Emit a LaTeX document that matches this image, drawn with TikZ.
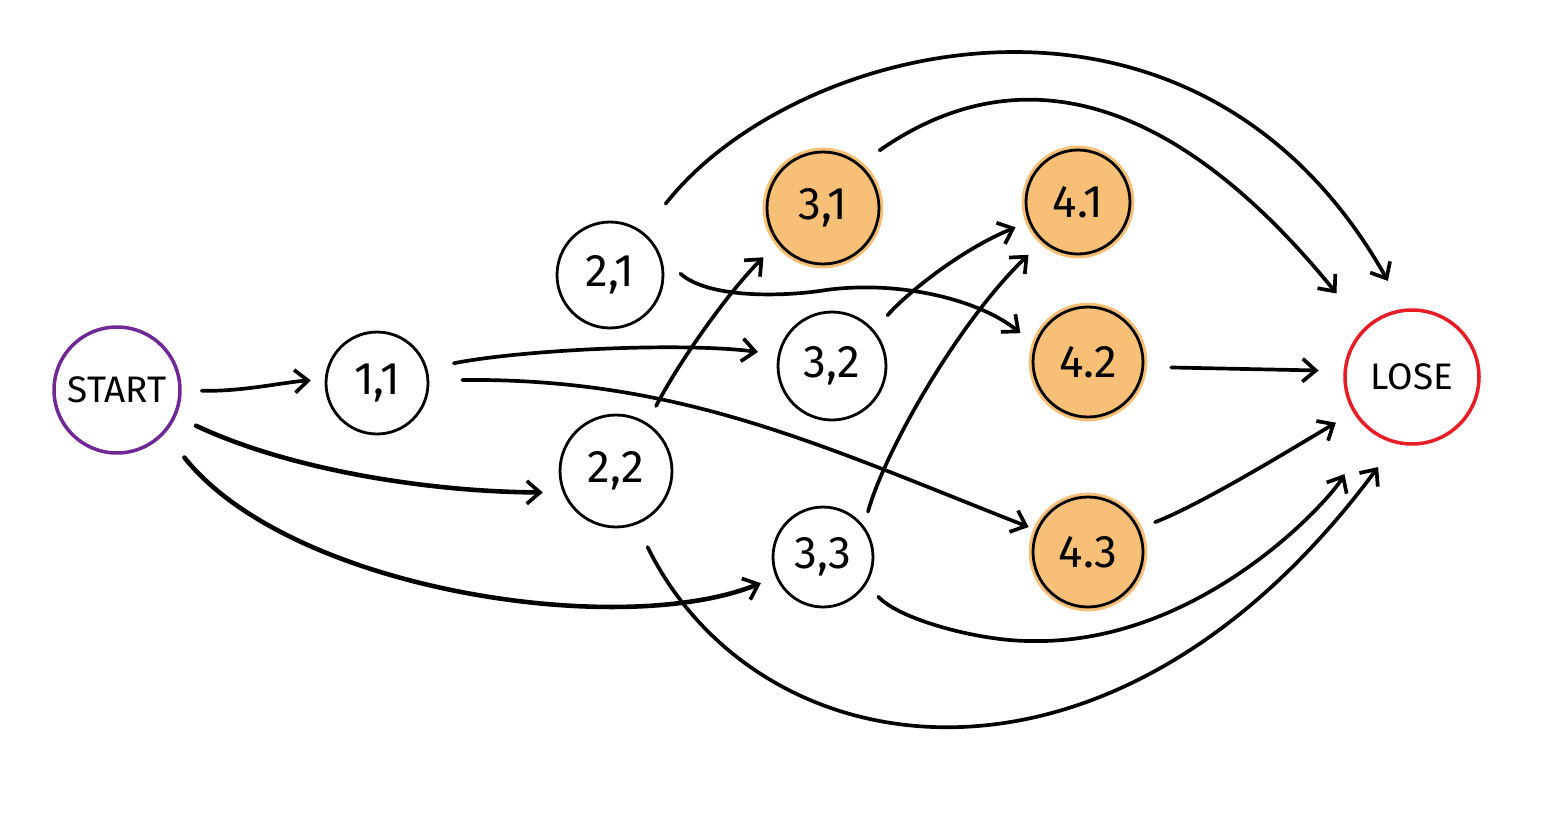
\documentclass[tikz,border=0pt]{standalone}
\usepackage{fontspec}
\setmainfont{Fira Sans}
\usetikzlibrary{arrows.meta}
\definecolor{orng}{RGB}{248,192,118}
\definecolor{startc}{RGB}{112,40,150}
\definecolor{losec}{RGB}{232,28,36}
\begin{document}
\begin{tikzpicture}[x=0.02cm,y=-0.02cm,
  st/.style={circle,draw=black,line width=1.6pt,inner sep=0pt,font=\fontsize{26}{26}\selectfont},
  big/.style={st,line width=2pt,font=\fontsize{21}{21}\selectfont},
  hot/.style={st,fill=orng,preaction={draw=orng,line width=5pt}},
  edge/.style={line width=2.1pt,line cap=round,-{Straight Barb[length=7.5pt,width=13pt,line width=2.1pt]}}]
\useasboundingbox[fill=white] (0,0) rectangle (1554,825);
% nodes
\node[big,draw=startc,minimum size=2.52cm] (S) at (117,390) {START};
\node[st,minimum size=2.04cm] (a) at (377,383) {1,1};
\node[st,minimum size=2.12cm] (b) at (610,275) {2,1};
\node[st,minimum size=2.24cm] (c) at (616,471) {2,2};
\node[hot,minimum size=2.24cm] (d) at (823,208) {3,1};
\node[st,minimum size=2.16cm] (e) at (832,366) {3,2};
\node[st,minimum size=2.0cm] (f) at (823,557) {3,3};
\node[hot,minimum size=2.08cm] (g) at (1078,202) {4.1};
\node[hot,minimum size=2.2cm] (h) at (1088,362) {4.2};
\node[hot,minimum size=2.2cm] (i) at (1088,552) {4.3};
\node[big,draw=losec,minimum size=2.68cm] (L) at (1412,377) {LOSE};
% connectors
\draw[edge,shorten <=0.4cm,shorten >=0.28cm] (S.0) .. controls (240,392) and (285,382) .. (a.176);
\draw[edge,line width=2.6pt,shorten <=0.44cm,shorten >=0.4cm] (S.-24) .. controls (290,470) and (430,492) .. (c.202);
\draw[edge,line width=2.6pt,shorten <=0.62cm,shorten >=0.32cm] (S.-42) .. controls (290,590) and (620,640) .. (f.203);
\draw[edge,shorten <=0.54cm,shorten >=0.4cm] (a.16) .. controls (520,350) and (680,342) .. (e.168);
\draw[edge,shorten <=0.66cm,shorten >=0.16cm] (a.3) .. controls (680,378) and (820,445) .. (i.157);
\draw[edge,shorten <=0.72cm,shorten >=0.64cm] (b.52) .. controls (792,42) and (1194,-63) .. (L.97);
\draw[edge,shorten <=0.52cm,shorten >=0.36cm] (b.20) .. controls (710,300) and (790,296) .. (826,290) .. controls (900,280) and (980,300) .. (h.162);
\draw[edge,shorten <=0.38cm,shorten >=0.4cm] (c.57) .. controls (680,360) and (730,290) .. (d.218);
\draw[edge,shorten <=0.5cm,shorten >=0.58cm] (c.-69) .. controls (757,770) and (1109,830) .. (L.256);
\draw[edge,shorten <=0.48cm,shorten >=0.88cm] (d.50) .. controls (962,93) and (1123,31) .. (L.134);
\draw[edge,shorten <=0.4cm,shorten >=0.28cm] (e.40) .. controls (905,295) and (960,250) .. (g.202);
\draw[edge,shorten <=0.3cm,shorten >=0.38cm] (f.37) .. controls (885,450) and (960,320) .. (g.228);
\draw[edge,shorten <=0.34cm,shorten >=1.0cm] (f.-32) .. controls (900,620) and (980,641) .. (1030,641) .. controls (1200,645) and (1330,500) .. (L.231);
\draw[edge,shorten <=0.34cm,shorten >=0.4cm] (i.25) .. controls (1200,505) and (1290,450) .. (L.211);
\draw[edge,shorten <=0.54cm,shorten >=0.5cm] (h.-5) -- (L.175);
\end{tikzpicture}
\end{document}
